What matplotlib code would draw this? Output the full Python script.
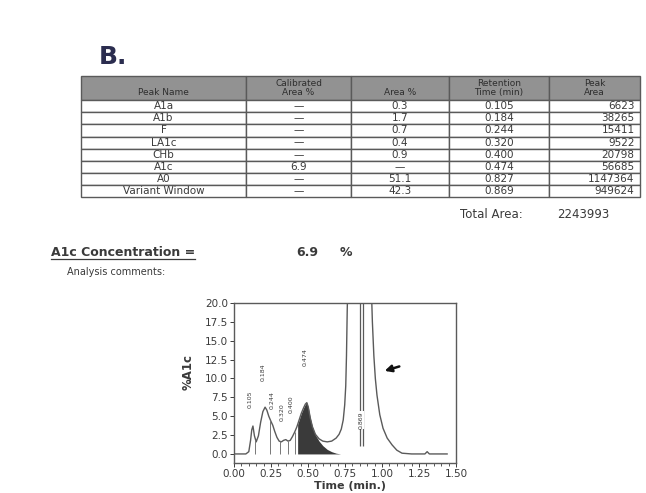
import matplotlib.pyplot as plt
from matplotlib.table import Table
from matplotlib.lines import Line2D

plt.rcParams['font.family'] = ['DejaVu Sans']

# peak table
col_labels = ["\nPeak Name", "Calibrated\nArea %", "\nArea %", "Retention\nTime (min)", "Peak\nArea"]
peak_names = ["A1a", "A1b", "F", "LA1c", "CHb", "A1c", "A0", "Variant Window"]
calibrated = ["\u2014", "\u2014", "\u2014", "\u2014", "\u2014", "6.9", "\u2014", "\u2014"]
area_pct = ["0.3", "1.7", "0.7", "0.4", "0.9", "\u2014", "51.1", "42.3"]
ret_time = ["0.105", "0.184", "0.244", "0.320", "0.400", "0.474", "0.827", "0.869"]
peak_area = ["6623", "38265", "15411", "9522", "20798", "56685", "1147364", "949624"]
total_area = "2243993"
a1c_conc = "6.9"

# chromatogram trace
trace_t = [0.00, 0.08, 0.10, 0.112, 0.12, 0.128, 0.138, 0.15, 0.165, 0.18, 0.195, 0.21,
           0.222, 0.235, 0.25, 0.262, 0.275, 0.29, 0.305, 0.32, 0.335, 0.35, 0.365, 0.38,
           0.395, 0.41, 0.425, 0.44, 0.455, 0.47, 0.482, 0.492, 0.502, 0.515, 0.53, 0.55,
           0.575, 0.60, 0.63, 0.66, 0.69, 0.71, 0.725, 0.738, 0.748, 0.755, 0.76, 0.765,
           0.775, 0.80, 0.85, 0.90, 0.925, 0.935, 0.945, 0.955, 0.966, 0.985, 1.007, 1.035,
           1.068, 1.10, 1.135, 1.20, 1.29, 1.305, 1.32, 1.44]
trace_y = [0.0, 0.0, 0.3, 1.8, 3.2, 3.7, 2.4, 1.6, 2.4, 4.2, 5.6, 6.2,
           5.8, 5.0, 4.3, 3.8, 3.0, 2.2, 1.7, 1.6, 1.8, 1.9, 1.7, 1.8,
           2.3, 2.9, 3.6, 4.5, 5.4, 6.1, 6.6, 6.8, 6.2, 4.8, 3.6, 2.6,
           2.0, 1.7, 1.6, 1.7, 2.1, 2.6, 3.3, 4.5, 6.5, 9.0, 13.0, 19.0,
           28.0, 60.0, 120.0, 60.0, 24.0, 17.5, 13.0, 10.0, 7.8, 5.2, 3.4, 2.1,
           1.2, 0.5, 0.1, 0.0, 0.0, 0.3, 0.0, 0.0]

# shaded A1c area
a1c_t = [0.43, 0.43, 0.44, 0.455, 0.47, 0.482, 0.492, 0.502, 0.515, 0.53, 0.55, 0.575,
         0.60, 0.63, 0.66, 0.69, 0.72]
a1c_y = [0.0, 3.9, 4.5, 5.4, 6.1, 6.6, 6.8, 6.2, 4.8, 3.6, 2.5, 1.7,
         1.1, 0.6, 0.3, 0.1, 0.0]

# integration drop lines
drop_t = [0.145, 0.245, 0.31, 0.365, 0.41]
drop_y = [1.8, 4.5, 1.7, 1.7, 2.9]

# variant window lines
window_t = [0.851, 0.872]

# rotated peak labels
label_t = [0.108, 0.196, 0.257, 0.328, 0.385, 0.48, 0.861]
label_y = [7.2, 10.8, 7.2, 5.6, 6.6, 12.8, 4.5]
label_txt = ["0.105", "0.184", "0.244", "0.320", "0.400", "0.474", "0.869"]

TXT = '#3a3a3a'
LINE = '#5a5a5a'

fig = plt.figure(figsize=(6.46, 4.93), dpi=100)
W, H = 646, 493

# page layer in pixel coordinates
page = fig.add_axes([0, 0, 1, 1])
page.set_xlim(0, W)
page.set_ylim(H, 0)
page.axis('off')

page.text(99, 57, "B.", fontsize=18, fontweight='bold', color='#2b2d4f', va='center')

# table
tbl = Table(page, bbox=[81 / W, 1 - 197 / H, (640 - 81) / W, (197 - 76) / H])
col_w = [165, 105, 98, 100, 91]
rows = list(zip(peak_names, calibrated, area_pct, ret_time, peak_area))
for c, lab in enumerate(col_labels):
    cell = tbl.add_cell(0, c, col_w[c], 2.0, text=lab, loc='center', facecolor='#929292', edgecolor=LINE)
    cell.get_text().set_color('#2e2e2e')
    cell.get_text().set_fontsize(6.5)
    cell.get_text().set_linespacing(1.0)
for r, row in enumerate(rows, start=1):
    for c, val in enumerate(row):
        loc = 'right' if c == 4 else 'center'
        cell = tbl.add_cell(r, c, col_w[c], 1.0, text=val, loc=loc, facecolor='white', edgecolor=LINE)
        cell.get_text().set_color(TXT)
        cell.get_text().set_fontsize(7.5)
        cell.PAD = 0.06
tbl.auto_set_font_size(False)
for cell in tbl.get_celld().values():
    cell.set_linewidth(1.0)
page.add_table(tbl)

page.text(460, 215, "Total Area:", fontsize=8.5, color=TXT, va='center')
page.text(557, 215, total_area, fontsize=8.5, color=TXT, va='center')

conc = page.text(195, 253, "A1c Concentration =", fontsize=9, fontweight='bold', color=TXT,
                 va='center', ha='right')
page.text(296, 253, a1c_conc, fontsize=9, fontweight='bold', color=TXT, va='center')
page.text(340, 253, "%", fontsize=9, fontweight='bold', color=TXT, va='center')
page.text(165, 272, "Analysis comments:", fontsize=7, color=TXT, va='center', ha='right')

# underline under the concentration label
fig.canvas.draw()
bb = conc.get_window_extent()
fig.add_artist(Line2D([bb.x0 / W, bb.x1 / W], [(bb.y0 + 0.5) / H, (bb.y0 + 0.5) / H],
                      color=TXT, lw=0.9))

# chromatogram
ax = fig.add_axes([234 / W, 1 - 463 / H, 222 / W, 160 / H])
ax.fill_between(a1c_t, 0, a1c_y, color='#3a3a3a', lw=0)
ax.plot(trace_t, trace_y, color=LINE, lw=1.0)
ax.vlines(drop_t, 0, drop_y, color='#777777', lw=0.7)
ax.vlines(window_t, 1.0, 20, color=LINE, lw=0.9)
for t, y, s in zip(label_t, label_y, label_txt):
    ax.text(t, y, s, rotation=90, fontsize=4.5, color=TXT, ha='center', va='center',
            bbox=dict(facecolor='white', edgecolor='none', pad=0.3) if t > 0.8 else None)
ax.annotate('', xy=(1.0, 10.9), xytext=(1.135, 11.7),
            arrowprops=dict(arrowstyle='-|>', color='#111111', lw=1.8, mutation_scale=10))

ax.set_xlim(0, 1.5)
ax.set_ylim(-1.2, 20)
ax.set_xticks([0, 0.25, 0.5, 0.75, 1.0, 1.25, 1.5])
ax.set_xticklabels(["%.2f" % v for v in ax.get_xticks()])
ax.set_xticks([i * 0.05 for i in range(31)], minor=True)
ax.set_yticks([i * 2.5 for i in range(9)])
ax.set_yticklabels(["%.1f" % v for v in ax.get_yticks()])
ax.tick_params(labelsize=7.5, length=3, width=0.7, colors=TXT, pad=1.5)
ax.tick_params(which='minor', length=2, width=0.6, color=TXT)
for sp in ax.spines.values():
    sp.set_color(LINE)
    sp.set_linewidth(1.0)

page.text(188, 372, "%A1c", rotation=90, fontsize=8.5, fontweight='bold', color=TXT,
          ha='center', va='center')
page.text(350, 486, "Time (min.)", fontsize=8, fontweight='bold', color=TXT,
          ha='center', va='center')

fig.savefig("out.png", dpi=100)
